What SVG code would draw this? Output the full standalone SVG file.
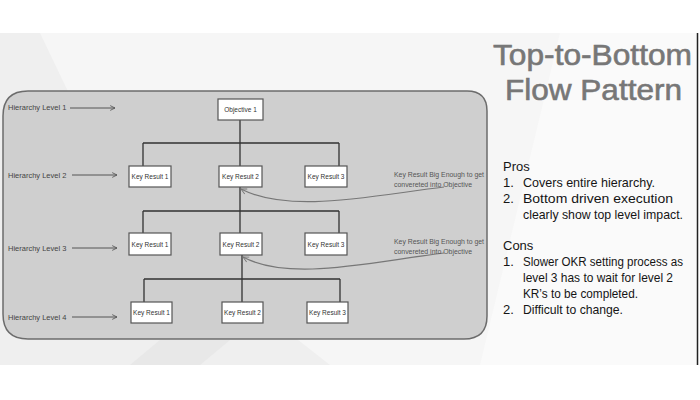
<svg xmlns="http://www.w3.org/2000/svg" width="700" height="400" viewBox="0 0 700 400">
<style>
.lvl{font-family:"Liberation Sans",Arial,sans-serif;font-size:7.5px;fill:#444}
.box{fill:#fff;stroke:#555;stroke-width:1.2}
.bt{font-family:"Liberation Sans",Arial,sans-serif;font-size:6.5px;fill:#333;text-anchor:middle}
.tree{fill:none;stroke:#333;stroke-width:1.3}
.harr{fill:none;stroke:#555;stroke-width:1}
.curve{fill:none;stroke:#777;stroke-width:1.2}
.note{font-family:"Liberation Sans",Arial,sans-serif;font-size:7.2px;fill:#555}
.title{font-family:"Liberation Sans",Arial,sans-serif;font-size:29px;fill:#777;stroke:#777;stroke-width:0.6}
.body{font-family:"Liberation Sans",Arial,sans-serif;font-size:13px;fill:#151515}
</style>
<defs>
<marker id="chev" viewBox="0 0 10 10" refX="9" refY="5" markerWidth="6" markerHeight="6" orient="auto" markerUnits="userSpaceOnUse">
<path d="M1,1 L9,5 L1,9" fill="none" stroke="#555" stroke-width="1.4"/>
</marker>
<marker id="chev2" viewBox="0 0 10 10" refX="9" refY="5" markerWidth="7" markerHeight="7" orient="auto" markerUnits="userSpaceOnUse">
<path d="M1,1 L9,5 L1,9" fill="none" stroke="#777" stroke-width="1.3"/>
</marker>
</defs>
<rect x="0" y="0" width="700" height="400" fill="#fff"/>
<g id="slide-bg">
<rect x="0" y="33" width="697" height="332" fill="#efefef"/>
<polygon points="40,33 697,33 697,365 330,365 120,200" fill="#f6f6f6"/>
<polygon points="560,33 697,33 697,365 480,365" fill="#fafafa"/>
<polygon points="130,365 160,340 230,340 200,365" fill="#e8e8e8"/>
<line x1="697.5" y1="33" x2="697.5" y2="365" stroke="#222" stroke-width="1.5"/>
</g>
<g id="panel">
<path d="M3,116 Q3,91 28,91 H467 Q487,91 487,111 V316 Q487,339 464,339 H28 Q3,339 3,314 Z" fill="#cfcfcf" stroke="#6c6c6c" stroke-width="1.5"/>
</g>
<g id="levels">
<text class="lvl" x="8" y="110">Hierarchy Level 1</text>
<text class="lvl" x="8" y="178">Hierarchy Level 2</text>
<text class="lvl" x="8" y="251">Hierarchy Level 3</text>
<text class="lvl" x="8" y="320">Hierarchy Level 4</text>
</g>
<g id="connectors">
<path class="harr" d="M70,108 H115" marker-end="url(#chev)"/>
<path class="harr" d="M72,175 H117" marker-end="url(#chev)"/>
<path class="harr" d="M72,248 H117" marker-end="url(#chev)"/>
<path class="harr" d="M72,317 H117" marker-end="url(#chev)"/>
<path class="tree" d="M240,120 V166 M143,143 H339 M143,143 V166 M339,143 V166"/>
<path class="tree" d="M240,187 V233 M143,211 H339 M143,211 V233 M339,211 V233"/>
<path class="tree" d="M242,255 V302 M144,279 H340 M144,279 V302 M340,279 V302"/>
<path class="curve" d="M444,187 C370,196 290,214 241,189" marker-end="url(#chev2)"/>
<path class="curve" d="M444,253 C370,262 290,282 243,257" marker-end="url(#chev2)"/>
</g>
<g id="objective1"><rect class="box" x="218" y="99" width="45" height="21"/><text class="bt" x="240.5" y="112">Objective 1</text></g>
<g id="l2-kr1"><rect class="box" x="129" y="166" width="42" height="21"/><text class="bt" x="150" y="179">Key Result 1</text></g>
<g id="l2-kr2"><rect class="box" x="219" y="166" width="43" height="21"/><text class="bt" x="240.5" y="179">Key Result 2</text></g>
<g id="l2-kr3"><rect class="box" x="305" y="166" width="42" height="21"/><text class="bt" x="326" y="179">Key Result 3</text></g>
<g id="l3-kr1"><rect class="box" x="129" y="233" width="42" height="22"/><text class="bt" x="150" y="246.5">Key Result 1</text></g>
<g id="l3-kr2"><rect class="box" x="220" y="233" width="42" height="22"/><text class="bt" x="241" y="246.5">Key Result 2</text></g>
<g id="l3-kr3"><rect class="box" x="305" y="233" width="42" height="22"/><text class="bt" x="326" y="246.5">Key Result 3</text></g>
<g id="l4-kr1"><rect class="box" x="131" y="302" width="41" height="21"/><text class="bt" x="151.5" y="315">Key Result 1</text></g>
<g id="l4-kr2"><rect class="box" x="222" y="302" width="41" height="21"/><text class="bt" x="242.5" y="315">Key Result 2</text></g>
<g id="l4-kr3"><rect class="box" x="307" y="302" width="41" height="21"/><text class="bt" x="327.5" y="315">Key Result 3</text></g>
<g id="note1">
<text class="note" x="394" y="177" textLength="90" lengthAdjust="spacingAndGlyphs">Key Result Big Enough to get</text>
<text class="note" x="394" y="187" textLength="78" lengthAdjust="spacingAndGlyphs">convereted into Objective</text>
</g>
<g id="note2">
<text class="note" x="394" y="244" textLength="90" lengthAdjust="spacingAndGlyphs">Key Result Big Enough to get</text>
<text class="note" x="394" y="254" textLength="78" lengthAdjust="spacingAndGlyphs">convereted into Objective</text>
</g>
<g id="title">
<text class="title" x="493" y="65" textLength="199" lengthAdjust="spacingAndGlyphs">Top-to-Bottom</text>
<text class="title" x="505" y="100" textLength="177" lengthAdjust="spacingAndGlyphs">Flow Pattern</text>
</g>
<g id="pros-cons">
<text class="body" x="503" y="171">Pros</text>
<text class="body" x="503" y="187">1.</text>
<text class="body" x="523" y="187" textLength="132" lengthAdjust="spacingAndGlyphs">Covers entire hierarchy.</text>
<text class="body" x="503" y="203">2.</text>
<text class="body" x="523" y="203" textLength="150" lengthAdjust="spacingAndGlyphs">Bottom driven execution</text>
<text class="body" x="523" y="219" textLength="160" lengthAdjust="spacingAndGlyphs">clearly show top level impact.</text>
<text class="body" x="503" y="250">Cons</text>
<text class="body" x="503" y="266">1.</text>
<text class="body" x="523" y="266" style="font-size:12px" textLength="160" lengthAdjust="spacingAndGlyphs">Slower OKR setting process as</text>
<text class="body" x="523" y="282" textLength="150" lengthAdjust="spacingAndGlyphs">level 3 has to wait for level 2</text>
<text class="body" x="523" y="298" textLength="115" lengthAdjust="spacingAndGlyphs">KR’s to be completed.</text>
<text class="body" x="503" y="314">2.</text>
<text class="body" x="523" y="314" textLength="100" lengthAdjust="spacingAndGlyphs">Difficult to change.</text>
</g>
</svg>
